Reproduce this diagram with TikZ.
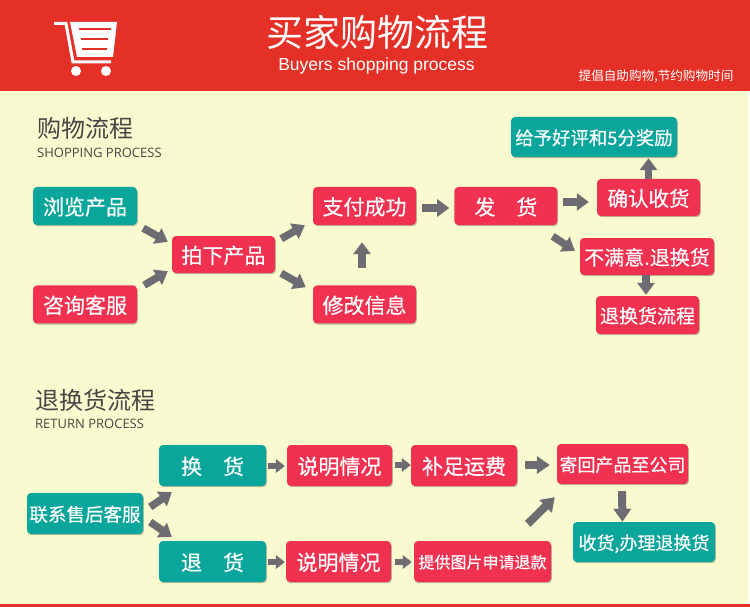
\documentclass[tikz,border=0pt]{standalone}
\usepackage{fontspec}
\setmainfont[FakeBold=0.4]{Noto Sans CJK SC}
\newfontfamily\plainfont{Noto Sans CJK SC}
\newfontfamily\latinfont{Liberation Sans}
\newfontfamily\capsfont{Open Sans}
\usetikzlibrary{arrows.meta,positioning,shadows}
\definecolor{headred}{RGB}{228,48,38}
\definecolor{creambg}{RGB}{250,250,208}
\definecolor{boxred}{RGB}{240,50,80}
\definecolor{boxteal}{RGB}{10,165,155}
\definecolor{arrowgrey}{RGB}{108,108,114}
\definecolor{headgrey}{RGB}{70,70,66}
\tikzset{
  flowbox/.style={rounded corners=4pt,text=white,align=center,inner sep=0pt,text depth=0pt,
    drop shadow={shadow xshift=0.8pt,shadow yshift=-1.2pt,opacity=0.25,fill=black}},
  redbox/.style={flowbox,fill=boxred},
  tealbox/.style={flowbox,fill=boxteal},
  flowarrow/.style={-{Triangle[length=12pt,width=17pt]},line width=7.5pt,draw=arrowgrey},
  smallarrow/.style={-{Triangle[length=9pt,width=13.5pt]},line width=6.5pt,draw=arrowgrey},
  bigarrow/.style={-{Triangle[length=13pt,width=17pt]},line width=8pt,draw=arrowgrey},
}
\begin{document}
\begin{tikzpicture}[x=1pt,y=-1pt]
  \useasboundingbox (0,0) rectangle (750,607);
  % background
  \fill[creambg] (0,0) rectangle (750,607);
  \fill[white] (748,91) rectangle (750,607);
  \fill[headred] (0,0) rectangle (750,91);
  \fill[headred] (0,604) rectangle (750,607);
  % cart
  \fill[white] (70,22) -- (117,22) -- (113,57) -- (77,57) -- cycle;
  \draw[white,line width=3pt] (54,23.5) -- (66,23.5) -- (73,62) -- (111,62);
  \draw[headred,line width=1.8pt] (79,29) -- (111,29);
  \draw[headred,line width=1.8pt] (81,39) -- (108,39);
  \draw[headred,line width=1.8pt] (82,49) -- (107,49);
  \fill[white] (76,71) circle (5);
  \fill[white] (106,71) circle (5);
  % header text
  \node[text=white,font=\plainfont\fontsize{37}{37}\selectfont] (title) at (377,32) {买家购物流程};
  \node[text=white,font=\latinfont\fontsize{17.5}{18}\selectfont] (subtitle) at (376.5,66) {Buyers shopping process};
  \node[text=white,font=\plainfont\fontsize{12.6}{13}\selectfont] (slogan) at (656,76.5) {提倡自助购物,节约购物时间};
  % section headings
  \node[text=headgrey,anchor=west,inner sep=0pt,font=\plainfont\fontsize{24}{24}\selectfont] (shophead) at (37,128) {购物流程};
  \node[text=headgrey,anchor=west,inner sep=0pt,font=\capsfont\fontsize{13}{13}\selectfont] (shopsub) at (37,153) {SHOPPING PROCESS};
  \node[text=headgrey,anchor=west,inner sep=0pt,font=\plainfont\fontsize{24}{24}\selectfont] (backhead) at (35,400) {退换货流程};
  \node[text=headgrey,anchor=west,inner sep=0pt,font=\capsfont\fontsize{13}{13}\selectfont] (backsub) at (35,424) {RETURN PROCESS};
  % shopping flow
  \node[tealbox,minimum width=104pt,minimum height=38pt,font=\fontsize{21}{21}\selectfont] (browse) at (85,206) {浏览产品};
  \node[redbox,minimum width=104pt,minimum height=38pt,font=\fontsize{21}{21}\selectfont,below=60pt of browse] (consult) {咨询客服};
  \node[redbox,minimum width=103pt,minimum height=37pt,font=\fontsize{21}{21}\selectfont] (order) at (223.5,254.5) {拍下产品};
  \node[redbox,minimum width=103pt,minimum height=38pt,font=\fontsize{21}{21}\selectfont] (paid) at (364.5,206) {支付成功};
  \node[redbox,minimum width=103pt,minimum height=38pt,font=\fontsize{21}{21}\selectfont,below=60pt of paid] (modify) {修改信息};
  \node[redbox,minimum width=103pt,minimum height=38pt,font=\fontsize{21}{21}\selectfont,right=38pt of paid] (ship) {发\quad 货};
  \node[redbox,minimum width=103pt,minimum height=37pt,font=\fontsize{20.5}{21}\selectfont] (confirm) at (648.5,197.5) {确认收货};
  \node[tealbox,minimum width=166pt,minimum height=40pt,font=\fontsize{18.4}{19}\selectfont] (praise) at (594,137) {给予好评和5分奖励};
  \node[redbox,minimum width=134pt,minimum height=37pt,font=\fontsize{20}{20}\selectfont] (unhappy) at (647,256.5) {不满意.退换货};
  \node[redbox,minimum width=103pt,minimum height=38pt,font=\fontsize{19}{19}\selectfont] (returnflow) at (647.5,315) {退换货流程};
  \draw[flowarrow] ([shift={(6,3)}]browse.south east) -- ([shift={(-4,6)}]order.north west);
  \draw[flowarrow] ([shift={(7,0)}]consult.north east) -- ([shift={(-4,-2)}]order.south west);
  \draw[flowarrow] ([shift={(6,3)}]order.north east) -- ([shift={(-8,0)}]paid.south west);
  \draw[flowarrow] ([shift={(6,0)}]order.south east) -- ([shift={(-7,2)}]modify.north west);
  \draw[flowarrow] ([shift={(-2.5,-17)}]modify.north) -- ([shift={(-2.5,17)}]paid.south);
  \draw[flowarrow] ([shift={(6,2)}]paid.east) -- ([shift={(-5,2)}]ship.west);
  \draw[flowarrow] ([shift={(5,-4)}]ship.east) -- ([shift={(-8,4.5)}]confirm.west);
  \draw[flowarrow] (confirm.north) -- ([shift={(0,1)}]confirm.north |- praise.south);
  \draw[flowarrow] ([shift={(-5,11)}]ship.south east) -- ([shift={(-5,13)}]unhappy.north west);
  \draw[flowarrow] ([shift={(-1,0)}]unhappy.south) -- ([shift={(-1.5,-1)}]returnflow.north);
  % return flow
  \node[tealbox,minimum width=116pt,minimum height=41pt,font=\fontsize{18.5}{19}\selectfont] (contact) at (85,513.5) {联系售后客服};
  \node[tealbox,minimum width=107pt,minimum height=41pt,font=\fontsize{21}{21}\selectfont] (swap) at (212.5,465.5) {换\quad 货};
  \node[tealbox,minimum width=107pt,minimum height=41pt,font=\fontsize{21}{21}\selectfont] (refund) at (212.5,561.5) {退\quad 货};
  \node[redbox,minimum width=105pt,minimum height=41pt,font=\fontsize{21}{21}\selectfont] (explaina) at (339.5,465.5) {说明情况};
  \node[redbox,minimum width=105pt,minimum height=41pt,font=\fontsize{21}{21}\selectfont] (explainb) at (338.5,561.5) {说明情况};
  \node[redbox,minimum width=106pt,minimum height=41pt,font=\fontsize{21}{21}\selectfont] (freight) at (464,465.5) {补足运费};
  \node[redbox,minimum width=137pt,minimum height=41pt,font=\fontsize{16}{16}\selectfont] (photos) at (482.5,561.5) {提供图片申请退款};
  \node[redbox,minimum width=131pt,minimum height=40pt,font=\fontsize{18}{18}\selectfont] (sendback) at (622.5,464) {寄回产品至公司};
  \node[tealbox,minimum width=142pt,minimum height=40pt,font=\fontsize{18}{18}\selectfont] (finish) at (644,542) {收货,办理退换货};
  \draw[flowarrow] ([shift={(7,-6.5)}]contact.east) -- ([shift={(13,6)}]swap.south west);
  \draw[flowarrow] ([shift={(7,8.5)}]contact.east) -- ([shift={(13,-4)}]refund.north west);
  \draw[smallarrow] ([shift={(2,0.5)}]swap.east) -- ([shift={(-2,0.5)}]explaina.west);
  \draw[smallarrow] ([shift={(2,0.5)}]refund.east) -- ([shift={(-1,0.5)}]explainb.west);
  \draw[smallarrow] ([shift={(3,-0.5)}]explaina.east) -- ([shift={(0,-0.5)}]freight.west);
  \draw[smallarrow] ([shift={(4,0.5)}]explainb.east) -- ([shift={(-2,0.5)}]photos.west);
  \draw[bigarrow] ([shift={(8,-0.5)}]freight.east) -- ([shift={(-7,1)}]sendback.west);
  \draw[bigarrow] ([shift={(114,-17)}]photos.north west) -- ([shift={(-2,13)}]sendback.south west);
  \draw[bigarrow] ([shift={(-0.5,7)}]sendback.south) -- (sendback.south |- finish.north);
\end{tikzpicture}
\end{document}
